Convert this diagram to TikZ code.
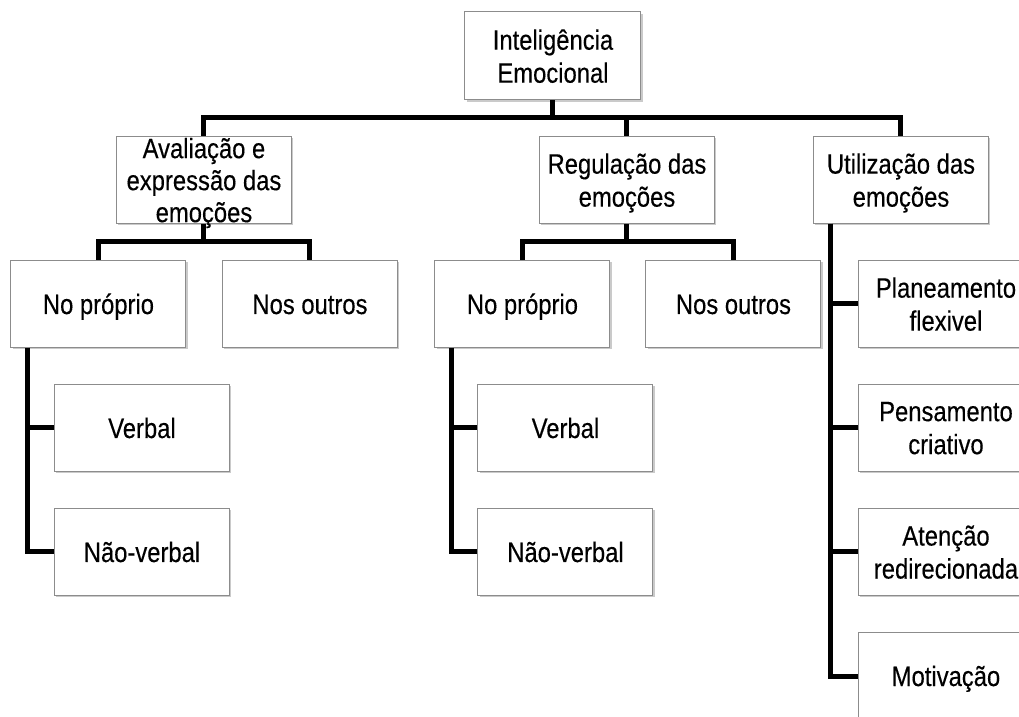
\documentclass[tikz,border=0pt]{standalone}
\usepackage{fontspec}
\setmainfont{Liberation Sans}[FakeStretch=0.85, FakeBold=0.3]
\usetikzlibrary{shadows}
\tikzstyle{box} = [rectangle, minimum width=87.5pt, minimum height=43.5pt, inner sep=0pt, text centered, align=center, text depth=0pt, draw=black!45, line width=0.5pt, fill=white, drop shadow={shadow xshift=0.9pt, shadow yshift=-0.9pt, fill=black!35, opacity=0.6}, font=\fontsize{14}{16.5}\selectfont]
\tikzstyle{oneline} = [box, text height=10pt]
\tikzstyle{link} = [line width=2.5pt, black]

\begin{document}
\begin{tikzpicture}[node distance=62pt]

\useasboundingbox (-276.5pt,28pt) rectangle (233pt,-330.5pt);
\clip (-276.5pt,28pt) rectangle (233pt,-330.5pt);

\node (root) [box, minimum width=88pt, minimum height=44pt] at (0,0) {Inteligência\\Emocional};
\node (aval) [box, below of=root, xshift=-174.5pt, font=\fontsize{14}{16}\selectfont] {Avaliação e\\expressão das\\emoções};
\node (regul) [box, below of=root, xshift=37pt] {Regulação das\\emoções};
\node (util) [box, below of=root, xshift=174pt] {Utilização das\\emoções};
\node (np1) [oneline, below of=aval, xshift=-52.75pt] {No próprio};
\node (no1) [oneline, below of=aval, xshift=53pt] {Nos outros};
\node (np2) [oneline, below of=regul, xshift=-52.25pt] {No próprio};
\node (no2) [oneline, below of=regul, xshift=53.25pt] {Nos outros};
\node (verb1) [oneline, below of=np1, xshift=21.75pt] {Verbal};
\node (nv1) [oneline, below of=verb1] {Não-verbal};
\node (verb2) [oneline, below of=np2, xshift=21.5pt] {Verbal};
\node (nv2) [oneline, below of=verb2] {Não-verbal};
\node (plan) [box, below of=util, xshift=22.5pt] {Planeamento\\flexivel};
\node (pens) [box, below of=plan] {Pensamento\\criativo};
\node (aten) [box, below of=pens] {Atenção\\redirecionada};
\node (motiv) [oneline, below of=aten] {Motivação};

\coordinate (rootbar) at ([yshift=-31pt]root.center);
\coordinate (avalbar) at ([yshift=-31pt]aval.center);
\coordinate (regulbar) at ([yshift=-31pt]regul.center);
\coordinate (np1foot) at ([xshift=8.5pt]np1.south west);
\coordinate (np2foot) at ([xshift=8.5pt]np2.south west);
\coordinate (utilfoot) at ([xshift=9pt]util.south west);

\draw [link] (root.south) -- (rootbar);
\draw [link] (aval.north) |- (rootbar) -| (util.north);
\draw [link] (regul.north) -- (regul.north |- rootbar);
\draw [link] (aval.south) -- (avalbar);
\draw [link] (np1.north) |- (avalbar) -| (no1.north);
\draw [link] (regul.south) -- (regulbar);
\draw [link] (np2.north) |- (regulbar) -| (no2.north);
\draw [link] (np1foot) |- (verb1.west);
\draw [link] (np1foot) |- (nv1.west);
\draw [link] (np2foot) |- (verb2.west);
\draw [link] (np2foot) |- (nv2.west);
\draw [link] (utilfoot) |- (plan.west);
\draw [link] (utilfoot) |- (pens.west);
\draw [link] (utilfoot) |- (aten.west);
\draw [link] (utilfoot) |- (motiv.west);

\end{tikzpicture}
\end{document}
